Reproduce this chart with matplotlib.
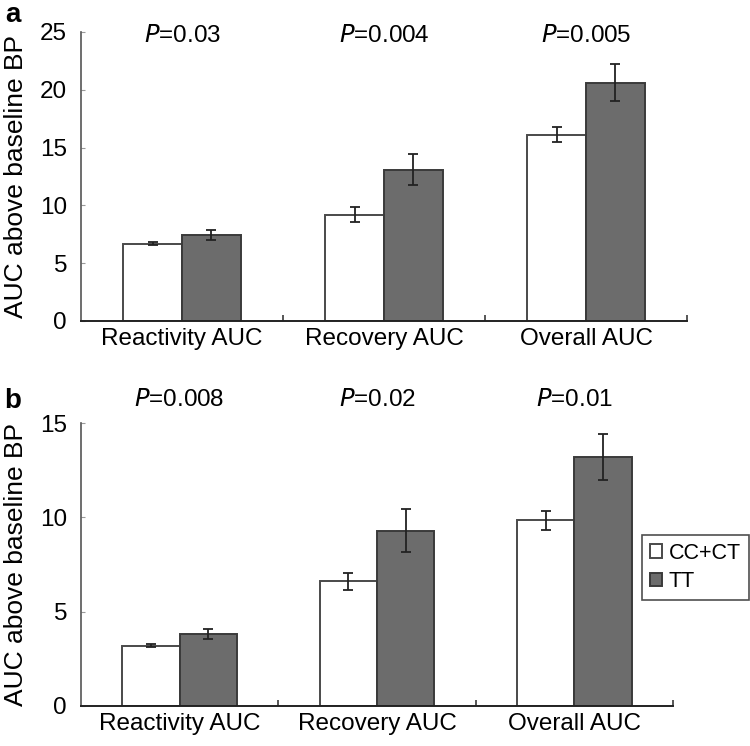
import matplotlib
matplotlib.use("Agg")
import matplotlib.pyplot as plt
import numpy as np

plt.rcParams['font.family'] = ['Liberation Sans', 'DejaVu Sans']

categories = ["Reactivity AUC", "Recovery AUC", "Overall AUC"]
groups = ["CC+CT", "TT"]

# Panel a
a_cc = [6.7, 9.2, 16.1]
a_cc_err = [0.1, 0.65, 0.65]
a_tt = [7.45, 13.1, 20.6]
a_tt_err = [0.42, 1.35, 1.6]
a_p = ["0.03", "0.004", "0.005"]

# Panel b
b_cc = [3.2, 6.6, 9.85]
b_cc_err = [0.08, 0.44, 0.5]
b_tt = [3.8, 9.3, 13.2]
b_tt_err = [0.27, 1.12, 1.24]
b_p = ["0.008", "0.02", "0.01"]

W, H = 750, 746
fig = plt.figure(figsize=(W/100, H/100), dpi=100)

edge = "#3a3a3a"
grey = "#6c6c6c"
bw = 0.29

def panel(rect, cc, cce, tt, tte, pvals, ymax, yticks, ptext_y, label_x):
    ax = fig.add_axes(rect)
    x = np.arange(len(categories))
    ax.bar(x - bw/2, cc, bw, color="white", edgecolor="#4a4a4a", linewidth=1.4, label=groups[0], zorder=2)
    ax.bar(x + bw/2, tt, bw, color=grey, edgecolor=edge, linewidth=1.4, label=groups[1], zorder=2)
    ax.errorbar(x - bw/2, cc, yerr=cce, fmt="none", ecolor="#222222", elinewidth=1.3, capsize=3.5, capthick=1.3, zorder=3)
    ax.errorbar(x + bw/2, tt, yerr=tte, fmt="none", ecolor="#222222", elinewidth=1.3, capsize=3.5, capthick=1.3, zorder=3)
    ax.set_xlim(-0.5, 2.5)
    ax.set_ylim(0, ymax)
    ax.set_yticks(yticks)
    ax.set_xticks(x)
    ax.set_xticklabels(categories, fontsize=17.5)
    ax.set_xticks([0.5, 1.5, 2.5], minor=True)
    ax.tick_params(axis="x", which="major", length=0, pad=5)
    ax.tick_params(axis="x", which="minor", direction="in", length=4, color=edge, width=1.2)
    ax.tick_params(axis="y", direction="in", length=3, color="#999999", labelsize=17.5, pad=10)
    for s in ["top", "right"]:
        ax.spines[s].set_visible(False)
    ax.spines["left"].set_color("#555555")
    ax.spines["left"].set_linewidth(1.2)
    ax.spines["bottom"].set_color("#222222")
    ax.spines["bottom"].set_linewidth(1.4)
    ax.set_ylabel("AUC above baseline BP", fontsize=19, va="center")
    ax.yaxis.set_label_coords(label_x, 0.5)
    for xi, p in zip(x, pvals):
        ax.text(xi, ptext_y, "$\\it{P}$=" + p, ha="center", va="center", fontsize=17.5, clip_on=False)
    return ax

ax1 = panel([81/W, 1-321/H, 606/W, 289/H], a_cc, a_cc_err, a_tt, a_tt_err, a_p, 25, [0, 5, 10, 15, 20, 25], 24.65, (16-81)/606)
ax2 = panel([81/W, 1-706/H, 592/W, 283/H], b_cc, b_cc_err, b_tt, b_tt_err, b_p, 15, [0, 5, 10, 15], 16.2, (16-81)/592)

fig.text(13/W, 1-15/H, "a", fontsize=20, fontweight="bold", ha="center", va="center")
fig.text(13/W, 1-401/H, "b", fontsize=20, fontweight="bold", ha="center", va="center")

handles, labels = ax2.get_legend_handles_labels()
leg = fig.legend(handles, labels, loc="upper left", bbox_to_anchor=(642/W, 1-535/H),
                 fontsize=15.5, frameon=True, fancybox=False, edgecolor="#222222",
                 handlelength=0.6, handleheight=0.6, handletextpad=0.3, borderpad=0.35,
                 labelspacing=0.35, borderaxespad=0)
leg.get_frame().set_linewidth(1.2)

fig.savefig("out.png", dpi=100)
